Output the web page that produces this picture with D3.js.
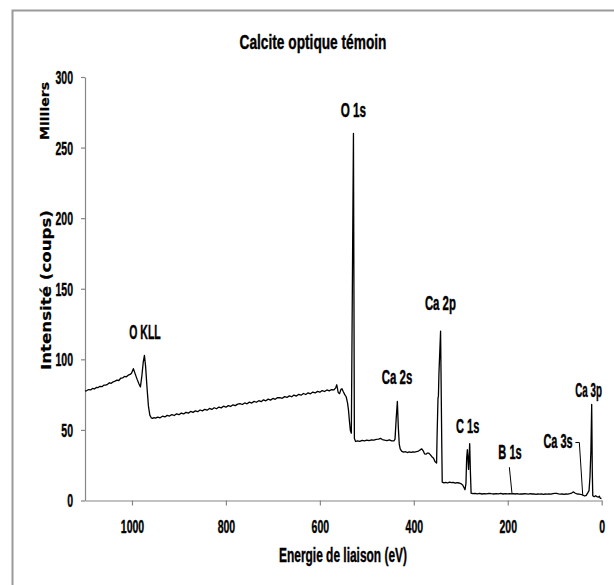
<!DOCTYPE html>
<html>
<head>
<meta charset="utf-8">
<script src="https://cdn.jsdelivr.net/npm/d3@7"></script>
<style>
  html, body { margin: 0; padding: 0; background: #fff; }
  svg { display: block; }
  .cond { font-family: "Liberation Sans Narrow", "Liberation Sans", Arial, sans-serif; font-weight: bold; fill: #000; stroke: #000; stroke-width: 0.35px; }
  .wide { font-family: "DejaVu Sans", Verdana, sans-serif; font-weight: bold; fill: #000; stroke: #000; stroke-width: 0.2px; }
</style>
</head>
<body>
<svg id="chart" width="614" height="585"></svg>
<script>
// ---------- DATA ----------
const chartTitle = "Calcite optique témoin";
const xTitle = "Energie de liaison (eV)";
const yTitle = "Intensité (coups)";
const yUnit = "Milliers";
const xTicks = [1000, 800, 600, 400, 200, 0];
const yTicks = [0, 50, 100, 150, 200, 250, 300];

// binding energy (eV) and intensity (thousands of counts)
const energy = [
  1100,1096,1092,1088,1084,1080,1076,1072,1068,1064,1060,1056,1052,1048,1044,1040,1036,1032,1028,1024,
  1020,1016,1012,1008,1004,1001,997,993,989,985,982,979,976,973.5,971,968,965,962,959,956,953,950,
  945,940,935,930,925,920,915,910,905,900,895,890,885,880,875,870,865,860,855,850,845,840,835,830,
  825,820,815,810,805,800,795,790,785,780,775,770,765,760,755,750,745,740,735,730,725,720,715,710,
  705,700,695,690,685,680,675,670,665,660,655,650,645,640,635,630,625,620,615,610,605,600,595,590,
  585,580,575,570,566,564,561,558,555,553,550,547,544,541,539,537,535,533,528.5,526.5,524,
  520,515,510,505,500,495,490,485,480,475,471,467,462,457,452,447,442,440,437.5,435,433,431,429,
  426,422,418,414,410,406,402,398,394,390,386,383,380,377,374,371,368,365,362,358,355,351.5,
  350.5,348.5,347.6,346.5,343,340.5,339.5,336,332,328,324,320,316,312,308,304,300,296,293,291,
  289,287.5,286,284.5,283.5,282.5,281,279.5,278,274,270,265,260,255,250,245,240,235,230,225,220,
  215,210,205,200,196,192,188,184,180,176,172,168,164,160,156,152,148,144,140,136,132,128,124,120,
  116,112,108,104,100,96,92,88,84,80,76,72,68,64,60,57,54,51,48,45,42,39,36,33,30,27,25,23,21.3,
  20,19,16,13,10.5,7,5,3.3,0.5
];
const counts = [
  77.5,77.9,78.6,78.3,79.4,79.0,80.1,80.0,80.9,80.6,81.7,81.8,82.3,83.4,83.0,84.1,84.6,85.3,85.0,86.6,
  86.8,87.9,87.6,88.8,89.3,90.2,93.4,89.5,85.8,82.5,80.5,88.0,98.0,102.8,95.0,80.0,67.0,60.5,58.6,58.2,58.7,58.4,
  59.1,58.6,59.7,59.2,60.3,59.8,60.9,60.2,61.4,60.8,61.9,61.3,62.5,61.9,63.1,62.4,63.5,62.9,64.1,63.5,64.6,64.0,65.2,64.5,
  65.7,65.0,66.2,65.6,66.8,66.1,67.2,66.6,67.8,67.2,68.3,68.6,68.0,69.1,68.5,69.7,69.0,70.2,69.6,70.7,70.0,71.3,70.6,71.8,
  71.1,72.3,71.7,72.9,72.8,72.4,73.6,73.0,74.1,73.5,74.7,74.0,75.2,74.6,75.8,75.1,76.3,75.6,76.8,76.2,77.3,76.7,77.9,77.2,
  78.3,77.7,78.6,78.3,80.0,82.0,76.5,75.7,78.8,79.2,77.0,75.0,73.5,69.0,63.8,56.0,49.5,47.7,260.0,44.0,41.8,
  42.3,41.9,42.6,42.2,42.8,42.4,43.0,42.7,43.3,43.5,44.0,43.2,42.7,42.4,42.9,42.2,42.3,43.5,58.0,70.2,52.0,40.0,36.6,
  35.0,34.3,34.6,34.0,34.4,34.1,34.5,34.2,34.7,35.0,36.0,36.6,35.2,33.0,32.8,33.6,33.5,32.5,31.2,30.0,27.6,26.5,
  45.0,72.5,73.8,90.0,120.0,40.0,13.0,12.5,12.9,12.4,13.0,12.6,12.9,12.3,12.7,12.4,12.0,11.0,9.0,7.6,
  12.0,30.0,36.0,28.0,22.0,30.0,40.2,20.0,5.2,4.8,5.1,4.7,5.0,4.6,4.9,4.7,5.1,4.8,4.6,4.9,4.7,
  5.0,4.6,4.8,4.7,4.8,4.7,4.9,4.6,4.8,4.5,4.7,4.6,4.9,4.7,4.5,4.8,4.6,4.7,4.4,4.6,4.5,4.7,4.4,4.6,
  4.5,4.7,4.5,4.9,5.0,5.0,4.7,4.5,4.6,4.4,4.6,4.5,4.8,5.3,6.1,5.3,4.9,4.6,4.5,4.3,4.2,3.6,3.2,3.6,5.2,7.0,16.5,35.0,68.1,
  20.0,3.4,2.7,3.4,2.8,2.4,3.0,1.7,1.4
];

// peak annotations: name, anchor in data units (eV, thousands)
const peakNames   = ["O 1s", "O KLL", "Ca 2s", "Ca 2p", "C 1s", "B 1s", "Ca 3s", "Ca 3p"];
const peakLabelE  = [528.6, 972.3, 435.8, 343.4, 285.3, 195.2, 93.0, 28.0];
const peakLabelI  = [276.6, 119.4, 87.5, 139.9, 52.8, 34.4, 42.1, 78.3];
// leader lines drawn from labels to points (eV, thousands)
const leaderB1s  = [[196.6, 23.6], [190.9, 4.7]];
const leaderCa3s = [[56.0, 41.1], [47.6, 41.1], [40.5, 4.4]];

// ---------- LAYOUT ----------
const svg = d3.select("#chart");
const axisColor = "#868686";
const stretchY = 1.15;

const x = d3.scaleLinear().domain([1100, 0]).range([85, 601.7]);
const y = d3.scaleLinear().domain([0, 300]).range([500.5, 77]);

// squeeze a text horizontally so that it has the wanted width
function fitWidth(sel, w) {
  const nat = sel.node().getComputedTextLength();
  return nat > 0 ? w / nat : 1;
}
function placeText(str, cx, cy, w, size, cls, rotate) {
  const t = svg.append("text").attr("class", cls)
    .attr("text-anchor", "middle").attr("dy", "0.35em")
    .style("font-size", size + "px").text(str);
  const s = fitWidth(t, w);
  t.attr("transform", rotate
    ? `translate(${cx},${cy}) rotate(-90) scale(${s},1)`
    : `translate(${cx},${cy}) scale(${s},${stretchY})`);
  return t;
}

// outer frame (chart area border, extends past the window)
svg.append("path")
  .attr("d", "M12.5,600 L12.5,10.5 L620,10.5")
  .attr("fill", "none").attr("stroke", "#9a9a9a").attr("stroke-width", 2);

// axes
const gx = svg.append("g").attr("transform", `translate(0,${y(0)})`)
  .call(d3.axisBottom(x).tickValues(xTicks).tickSize(5).tickSizeOuter(0).tickFormat(d3.format("d")));
const gy = svg.append("g").attr("transform", `translate(${x(1100)},0)`)
  .call(d3.axisLeft(y).tickValues(yTicks).tickSize(4).tickSizeOuter(0).tickFormat(d3.format("d")));
[gx, gy].forEach(g => {
  g.attr("font-size", null).attr("font-family", null);
  g.select(".domain").attr("stroke", axisColor).attr("stroke-width", 1.2);
  g.selectAll(".tick line").attr("stroke", axisColor).attr("stroke-width", 1.2);
  g.selectAll(".tick text").attr("class", "cond").attr("fill", "#000")
    .style("font-size", "16px").attr("x", 0).attr("y", 0).attr("dy", "0.35em");
});
gx.selectAll(".tick text").each(function(d) {
  const t = d3.select(this);
  const s = fitWidth(t, String(d).length * 5.85);
  t.attr("text-anchor", "middle").attr("transform", `translate(0,26) scale(${s},${stretchY})`);
});
gy.selectAll(".tick text").each(function(d) {
  const t = d3.select(this);
  const s = fitWidth(t, String(d).length * 5.85);
  t.attr("text-anchor", "end").attr("transform", `translate(-12,0) scale(${s},${stretchY})`);
});

// spectrum line
const pts = energy.map((e, i) => [e, counts[i]]);
svg.append("path")
  .datum(pts)
  .attr("fill", "none").attr("stroke", "#000").attr("stroke-width", 1.3)
  .attr("stroke-linejoin", "round")
  .attr("d", d3.line().x(d => x(d[0])).y(d => y(d[1])));

// leader lines
[leaderB1s, leaderCa3s].forEach(L => {
  svg.append("path").datum(L)
    .attr("fill", "none").attr("stroke", "#000").attr("stroke-width", 1)
    .attr("d", d3.line().x(d => x(d[0])).y(d => y(d[1])));
});

// peak labels
const labelW = [25.4, 31.4, 30.6, 31, 23.3, 23.4, 29.3, 26.7];
peakNames.forEach((n, i) => {
  placeText(n, x(peakLabelE[i]), y(peakLabelI[i]), labelW[i], 17, "cond", false);
});

// titles
placeText(chartTitle, 313, 42, 147, 18, "cond", false);
placeText(xTitle, 343, 555, 128, 17, "cond", false);
placeText(yTitle, 46, 290, 160, 14.5, "wide", true);
placeText(yUnit, 45, 111, 58, 12, "wide", true);
</script>
</body>
</html>
